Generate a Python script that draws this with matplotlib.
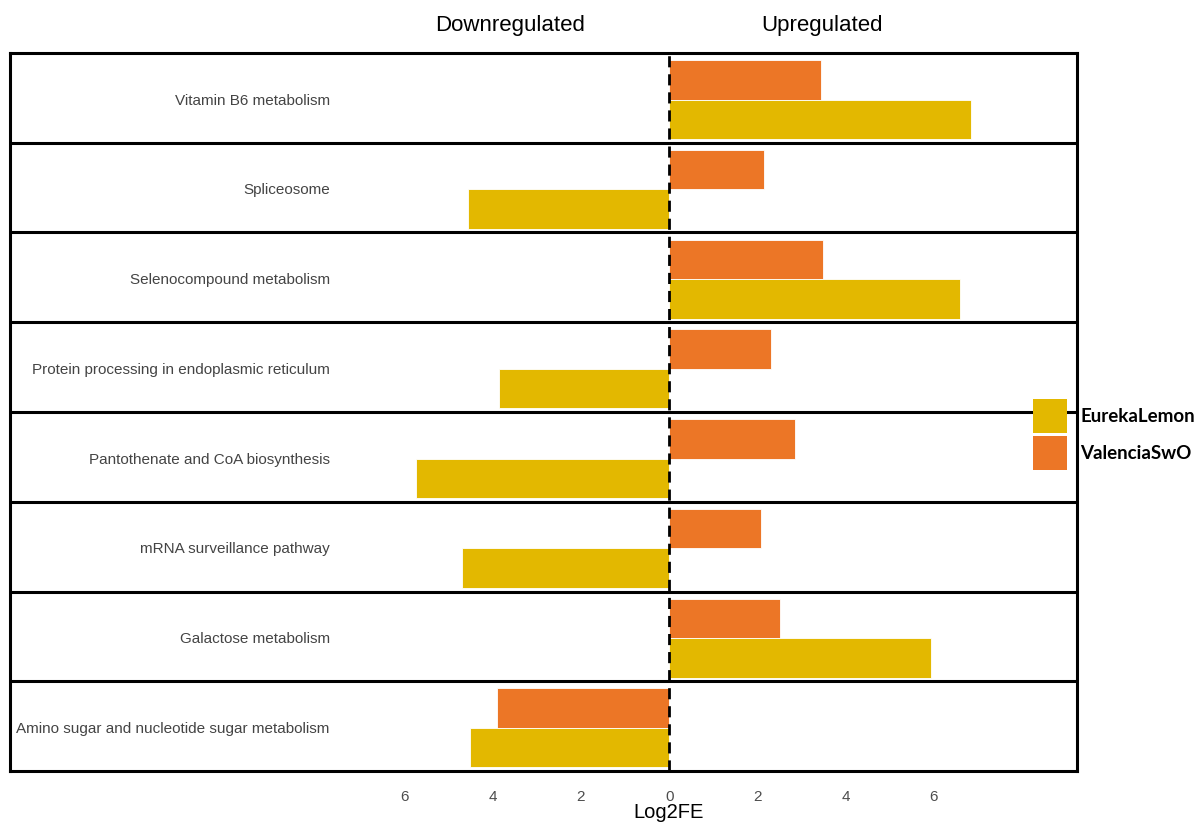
import matplotlib.pyplot as plt
from matplotlib.patches import Rectangle

# pathways, top to bottom
pathways = [
    "Vitamin B6 metabolism",
    "Spliceosome",
    "Selenocompound metabolism",
    "Protein processing in endoplasmic reticulum",
    "Pantothenate and CoA biosynthesis",
    "mRNA surveillance pathway",
    "Galactose metabolism",
    "Amino sugar and nucleotide sugar metabolism",
]
# signed Log2FE (negative = downregulated)
eureka = [6.85, -4.56, 6.60, -3.85, -5.74, -4.69, 5.94, -4.51]
valencia = [3.45, 2.15, 3.49, 2.31, 2.86, 2.09, 2.52, -3.90]
tick_vals = [-6, -4, -2, 0, 2, 4, 6]

c_eureka = "#E3B800"
c_valencia = "#EC7626"

plt.rcParams['font.family'] = ['Liberation Sans', 'DejaVu Sans']

W, H = 1198, 822
fig = plt.figure(figsize=(W / 100, H / 100), dpi=100)
ax = fig.add_axes([10 / W, (H - 771) / H, (1077 - 10) / W, (771 - 53) / H])

n = len(pathways)
bh = 0.44
for i, name in enumerate(pathways):
    yc = n - i - 0.5  # row centre
    ax.barh(yc + bh / 2 - 0.02, valencia[i], height=bh, color=c_valencia,
            edgecolor="white", linewidth=0.6)
    ax.barh(yc - bh / 2 - 0.02, eureka[i], height=bh, color=c_eureka,
            edgecolor="white", linewidth=0.6)
    ax.text(-7.7, yc - 0.03, name, ha="right", va="center", fontsize=11, color="#444444")

for k in range(1, n):
    ax.axhline(k, color="black", lw=2.2)
ax.axvline(0, color="black", lw=2, ls=(0, (4, 2.5)))

ax.set_xlim(-14.95, 9.25)
ax.set_ylim(0, n)
ax.set_yticks([])
ax.set_xticks(tick_vals)
ax.set_xticklabels([str(abs(v)) for v in tick_vals], fontsize=11, color="#4d4d4d")
ax.tick_params(axis="x", length=0, pad=14)
for sp in ax.spines.values():
    sp.set_linewidth(2.2)

fig.text(669 / W, 1 - 812 / H, "Log2FE", ha="center", va="center", fontsize=14.5)
fig.text(510 / W, 1 - 25 / H, "Downregulated", ha="center", va="center", fontsize=16)
fig.text(822 / W, 1 - 25 / H, "Upregulated", ha="center", va="center", fontsize=16)

# legend
for j, (lab, col) in enumerate([("EurekaLemon", c_eureka), ("ValenciaSwO", c_valencia)]):
    y0 = 399 + j * 37
    fig.patches.append(Rectangle((1033 / W, 1 - (y0 + 34) / H), 34 / W, 34 / H,
                                 transform=fig.transFigure, facecolor=col,
                                 edgecolor="none"))
    fig.text(1080 / W, 1 - (y0 + 17) / H, lab, ha="left", va="center",
             fontsize=13.5, fontweight="bold", family=["Lato", "DejaVu Sans"])

fig.savefig("out.png", dpi=100)
